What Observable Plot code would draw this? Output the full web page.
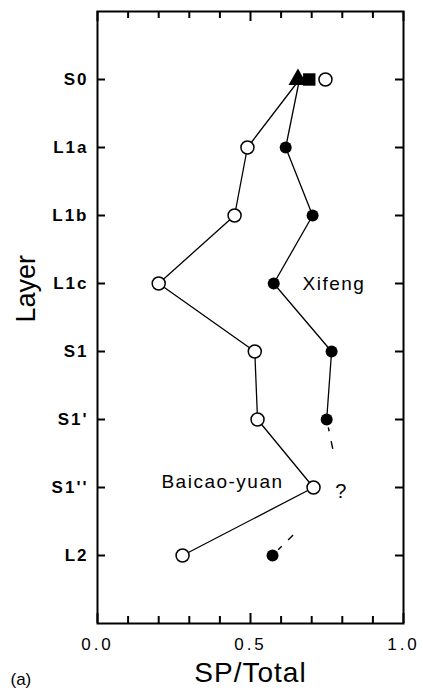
<!DOCTYPE html>
<html><head><meta charset="utf-8">
<script src="https://cdn.jsdelivr.net/npm/d3@7"></script>
<script src="https://cdn.jsdelivr.net/npm/@observablehq/plot@0.6"></script>
<style>
body{margin:0;background:#fff;}
g[aria-label="x-axis tick label"] text{letter-spacing:3px;}
g[aria-label="y-axis tick label"] text{letter-spacing:2px;}
.lbl text{letter-spacing:1.5px;}
.ttl text{letter-spacing:1px;}
</style></head><body><div id="chart"></div>
<script>
const layers = ["S0","L1a","L1b","L1c","S1","S1'","S1''","L2"];
const xifeng = [0.66, 0.615, 0.703, 0.576, 0.765, 0.749, NaN, 0.572];
const baicao = [0.66, 0.49, 0.448, 0.20, 0.514, 0.523, 0.706, 0.278];
const s0Filled = [{symbol: "triangle", value: 0.655}, {symbol: "square", value: 0.692}];
const s0Open = [0.745];
const xifengGuess = {layer: "S1''", value: 0.795};
const xMajorTicks = [0, 0.5, 1];
const xMinorTicks = [0.1, 0.2, 0.3, 0.4, 0.6, 0.7, 0.8, 0.9];
const xifengLabel = {text: "Xifeng", layer: "L1c", value: 0.67};
const baicaoLabel = {text: "Baicao-yuan", layer: "S1''", value: 0.608};

const xData = layers.map((layer, i) => ({layer, value: xifeng[i]}));
const bData = layers.map((layer, i) => ({layer, value: baicao[i]}));
const fromS1p = xData[layers.indexOf("S1'")];
const fromL2 = xData[layers.indexOf("L2")];

const W = 423, H = 696, mL = 97, mR = 20, mT = 11, mB = 73;
const fw = W - mL - mR, fh = H - mT - mB;

const chart = Plot.plot({
  width: W,
  height: H,
  marginLeft: mL,
  marginRight: mR,
  marginTop: mT,
  marginBottom: mB,
  style: {fontFamily: "'Liberation Sans', Arial, Helvetica, sans-serif", background: "#fff", color: "#000"},
  x: {domain: [0, 1]},
  y: {type: "point", domain: layers, padding: 1},
  marks: [
    Plot.frame({stroke: "black", strokeWidth: 2}),
    // inward ticks (lengths in pixels via insets)
    Plot.tickX(xMinorTicks, {x: d => d, insetTop: fh - 7, stroke: "black", strokeWidth: 2}),
    Plot.tickX(xMinorTicks, {x: d => d, insetBottom: fh - 7, stroke: "black", strokeWidth: 2}),
    Plot.tickX(xMajorTicks, {x: d => d, insetTop: fh - 10, stroke: "black", strokeWidth: 2}),
    Plot.tickX(xMajorTicks, {x: d => d, insetBottom: fh - 10, stroke: "black", strokeWidth: 2}),
    Plot.tickY(layers, {y: d => d, insetRight: fw - 8, stroke: "black", strokeWidth: 2}),
    Plot.tickY(layers, {y: d => d, insetLeft: fw - 8, stroke: "black", strokeWidth: 2}),
    // tick labels
    Plot.axisX({anchor: "bottom", ticks: xMajorTicks, tickSize: 0, tickPadding: 14, tickFormat: d3.format(".1f"), fontSize: 17, label: null}),
    Plot.axisY({anchor: "left", ticks: layers, tickSize: 0, tickPadding: 9, fontSize: 17, fontWeight: "bold", label: null}),
    // axis titles
    Plot.text(["Layer"], {text: d => d, frameAnchor: "left", dx: -71, dy: 5, rotate: -90, fontSize: 27}),
    Plot.text(["SP/Total"], {text: d => d, frameAnchor: "bottom", dy: 58, fontSize: 28, className: "ttl"}),
    Plot.text(["(a)"], {text: d => d, frameAnchor: "bottom-left", dx: -87, dy: 61, textAnchor: "start", fontSize: 17}),
    // data lines
    Plot.line(bData, {x: "value", y: "layer", stroke: "black", strokeWidth: 1.3}),
    Plot.line(xData, {x: "value", y: "layer", stroke: "black", strokeWidth: 1.3}),
    Plot.link([fromS1p], {
      x1: "value", y1: "layer", x2: () => xifengGuess.value, y2: () => xifengGuess.layer,
      stroke: "black", strokeWidth: 1.4, strokeDasharray: "0,8,4,10,8,300"
    }),
    Plot.link([fromL2], {
      x1: "value", y1: "layer", x2: () => xifengGuess.value, y2: () => xifengGuess.layer,
      stroke: "black", strokeWidth: 1.4, strokeDasharray: "0,8,5,9,7,300"
    }),
    // markers
    Plot.dot(bData.filter(d => d.layer !== "S0"), {x: "value", y: "layer", r: 6.5, fill: "white", stroke: "black", strokeWidth: 1.5}),
    Plot.dot(xData.filter(d => d.layer !== "S0" && !isNaN(d.value)), {x: "value", y: "layer", r: 6, fill: "black"}),
    Plot.dot(s0Filled, {x: "value", y: () => "S0", symbol: "symbol", r: 7, fill: "black"}),
    Plot.dot(s0Open, {x: d => d, y: () => "S0", r: 6.5, fill: "white", stroke: "black", strokeWidth: 1.5}),
    // annotations
    Plot.text([xifengLabel], {x: "value", y: "layer", text: "text", textAnchor: "start", fontSize: 19, className: "lbl"}),
    Plot.text([baicaoLabel], {x: "value", y: "layer", text: "text", textAnchor: "end", dy: -6, fontSize: 19, className: "lbl"}),
    Plot.text([xifengGuess], {x: "value", y: "layer", text: () => "?", dy: 4, fontSize: 20})
  ]
});
document.getElementById("chart").appendChild(chart);
</script>
</body></html>
